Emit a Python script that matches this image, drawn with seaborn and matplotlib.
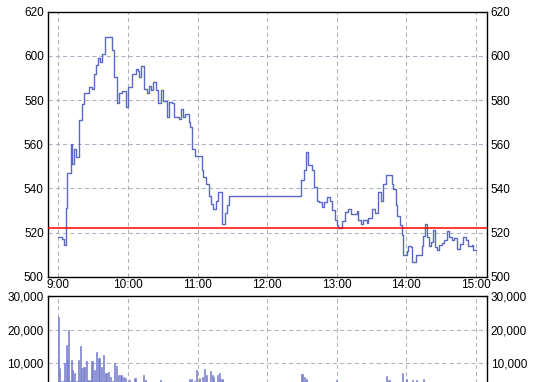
import matplotlib
matplotlib.use("Agg")
import matplotlib.pyplot as plt
import seaborn as sns
import numpy as np
import pandas as pd

# ---- data (minutes after 9:00) ----
price_t = [0, 3.4, 4.5, 6.4, 7.8, 10.7, 12.1, 13.5, 15, 18.1, 20.2, 22.4, 26.5, 28.8,
           30.8, 32.5, 34, 35.9, 37.7, 40.3, 46, 48.3, 50.2, 52.1, 54.5, 57.9, 60.3,
           63.5, 66.9, 68.4, 69.8, 71.3, 74.1, 76.2, 77.9, 79.7, 81.4, 83.8, 86.2,
           88.3, 90, 93.4, 95.7, 97.8, 99.7, 104.3, 105.8, 107.2, 109, 112.4, 113.5,
           115.5, 117.8, 123.6, 125, 127.3, 130.2, 131.6, 133.1, 135.9, 137.9, 140.9,
           143.7, 145.7, 147.4, 209.2, 212.1, 213.5, 215.5, 218.4, 220.4, 222.8, 224.7,
           227.1, 229, 231.9, 234.2, 236.2, 238.3, 240, 241.4, 244.3, 247.2, 250,
           252.3, 257.2, 258.6, 260.7, 262.9, 265.9, 267.2, 270.2, 273, 275.9, 277.9,
           280.2, 282.2, 287.4, 288.8, 290.8, 292.2, 294.6, 296.3, 297.4, 300.3, 301.7,
           303.8, 305.2, 308.4, 313.3, 314.7, 316.1, 317.6, 319.6, 321, 322.8, 324.7,
           326.7, 328.4, 330.5, 332.8, 334.8, 337.1, 339.1, 341.1, 343.4, 346.3, 349.1,
           351.5, 353.4, 356.4, 357.8, 360]
price_v = [518, 517, 514.5, 531, 547, 560, 551, 558, 554, 571, 578, 583, 586, 585,
           592, 596, 599, 597, 601, 608.5, 602.5, 590.5, 578.5, 583, 584, 577, 586,
           592, 594, 593, 590.3, 595.5, 585, 583, 586.5, 584.5, 588, 584.5, 578.5,
           584.5, 579.5, 572.3, 579.2, 578.5, 572.1, 571.4, 575.8, 572.1, 573.9, 570.1, 567.9,
           558, 554.5, 548.2, 545.2, 542.1, 536.4, 532.7, 530.5, 534.5, 538.3, 524,
           528.8, 532.3, 536.4, 543.6, 548.2, 556.5, 550.5, 548.2, 540.6, 534.5, 533.8,
           531.5, 533.8, 536, 534.2, 530, 525.5, 523.2, 522, 525.1, 529.2, 530.5,
           528.2, 529.7, 525.5, 524, 525.5, 524.2, 526.7, 530.8, 529, 538.3, 534.5,
           542.1, 545.9, 542, 539.5, 532.6, 527.4, 523.2, 519, 510, 511.8, 514.1,
           513.6, 506.5, 510, 514.1, 518.6, 524, 518, 514.1, 515.6, 521, 513.3,
           512.1, 514.4, 515.3, 516.4, 520.5, 518, 516.8, 517.4, 512.6, 515, 518,
           516.4, 514.1, 514.5, 512.1, 512.1]

vol_t = [0, 1, 2, 4, 5, 6, 7, 8, 9, 10, 11, 12, 13, 14, 16, 17, 18, 19, 20, 21, 22, 24,
         25, 26, 27, 28, 29, 31, 32, 33, 35, 36, 37, 39, 40, 41, 43, 45, 47, 48, 50, 52,
         54, 56, 58, 61, 66, 73, 75, 88,
         113, 115, 117, 119, 122, 124, 126, 128, 131, 133, 134, 137, 139, 141,
         210, 212, 214, 240, 283, 285, 297, 300, 305, 309, 315]
vol_v = [23700, 8500, 4800, 4800, 10000, 4800, 15500, 11000, 19800, 4800, 11000, 8000, 4800,
         7000, 4800, 11000, 4800, 15000, 8500, 4800, 8800, 10700,
         5000, 4800, 5000, 4800, 10600, 8000, 4800, 13200, 11500, 4800, 8800, 12300, 4800,
         7000, 7500, 6000, 4800, 10000, 9000, 6500,
         6500, 6000, 5600, 5000, 5700, 6500, 5000, 5000,
         5200, 5400, 4800, 8000, 5500, 6000, 8200, 6500, 7700, 6500, 6000, 6500, 7000, 5200,
         6700, 6000, 5200, 5000, 6200, 5000, 7000, 5200, 5000, 5000, 5300]

ref_price = 522
hour_ticks = [0, 60, 120, 180, 240, 300, 360]
hour_labels = ["9:00", "10:00", "11:00", "12:00", "13:00", "14:00", "15:00"]
price_ticks = [500, 520, 540, 560, 580, 600, 620]
vol_ticks = [10000, 20000, 30000]
vol_labels = ["10,000", "20,000", "30,000"]

sns.set_style("white")
plt.rcParams['font.family'] = ['Liberation Sans', 'DejaVu Sans']

fig = plt.figure(figsize=(5.42, 3.82), dpi=100)
W, H = 542.0, 382.0
L, R = 48.0, 486.7
ax1 = fig.add_axes([L / W, (H - 276.7) / H, (R - L) / W, (276.7 - 11.7) / H])
ax2 = fig.add_axes([L / W, (H - 396.7) / H, (R - L) / W, (396.7 - 296.0) / H])

line_col = "#5a69c6"
bar_col = "#7880cc"

df_p = pd.DataFrame({"t": price_t, "p": price_v})
sns.lineplot(data=df_p, x="t", y="p", ax=ax1, color=line_col, linewidth=1.0,
             drawstyle="steps-post", estimator=None, sort=False)
ax1.axhline(ref_price, color="#ff0000", linewidth=1.1, zorder=3)

df_v = pd.DataFrame({"t": vol_t, "v": vol_v})
sns.histplot(data=df_v, x="t", weights="v", ax=ax2, binwidth=1, binrange=(-0.5, 360.5),
             color=bar_col, alpha=1, edgecolor=bar_col, linewidth=0.45, shrink=1)

for ax in (ax1, ax2):
    ax.set_xlim(-9, 369.3)
    ax.set_xticks(hour_ticks)
    ax.set_xlabel("")
    ax.set_ylabel("")
    ax.grid(False)
    for x in hour_ticks:
        ax.axvline(x, color="#b2b2b2", linewidth=0.75, linestyle=(0, (4, 3)), zorder=0)
    for s in ax.spines.values():
        s.set_visible(True)
        s.set_color("black")
        s.set_linewidth(1.0)
    ax.tick_params(axis="both", length=0, labelsize=8.5, colors="black",
                   left=False, right=False, labelleft=True, labelright=True, pad=3)

ax1.set_ylim(500, 620)
ax1.set_yticks(price_ticks)
ax1.set_xticklabels(hour_labels)
ax1.tick_params(axis="x", pad=2)
for y in price_ticks[1:-1]:
    ax1.axhline(y, color="#aab4c8", linewidth=0.75, linestyle=(0, (4, 3)), zorder=0)

ax2.set_ylim(0, 30000)
ax2.set_yticks(vol_ticks)
ax2.set_yticklabels(vol_labels)
ax2.tick_params(axis="x", labelbottom=False)
for y in [10000, 20000]:
    ax2.axhline(y, color="#aab4c8", linewidth=0.75, linestyle=(0, (4, 3)), zorder=0)

fig.savefig("out.png", dpi=100)
